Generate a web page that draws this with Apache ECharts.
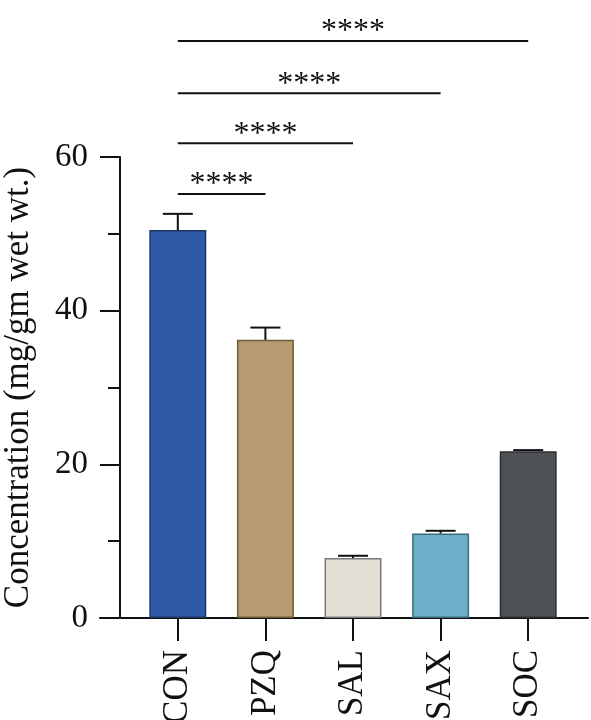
<!DOCTYPE html>
<html>
<head>
<meta charset="utf-8">
<script src="https://cdn.jsdelivr.net/npm/echarts@6/dist/echarts.min.js"></script>
<style>
  html, body { margin: 0; padding: 0; background: #fff; }
  #chart { width: 591px; height: 720px; }
</style>
</head>
<body>
<div id="chart"></div>
<script>
const categories = ["CON", "PZQ", "SAL", "SAX", "SOC"];
const means = [50.5, 36.2, 7.8, 11.0, 21.7];
const upperErr = [52.6, 37.8, 8.1, 11.35, 21.85];
const barColors = ["#2f5aa8", "#b59b6f", "#e3dfd4", "#6bafc9", "#4e5257"];
const borderColors = ["#1c3563", "#6e5c33", "#7a7a74", "#3c6a7a", "#2b2d30"];
const yTicks = { min: 0, max: 60, interval: 20 };

// significance brackets: [from index, to index, height in data units, label]
const sigFrom = [0, 0, 0, 0];
const sigTo = [1, 2, 3, 4];
const sigLevels = [55.2, 61.8, 68.3, 75.1];
const sigLabels = ["****", "****", "****", "****"];

const serif = "'Liberation Serif', 'DejaVu Serif', serif";

const chart = echarts.init(document.getElementById("chart"));

const option = {
  animation: false,
  grid: [
    { left: 134, right: 19, top: 157, bottom: 102, outerBoundsMode: "none", containLabel: false },
    { left: 100, right: 3, top: 157, bottom: 102, outerBoundsMode: "none", containLabel: false }
  ],
  xAxis: [
    {
      type: "category",
      gridIndex: 0,
      data: categories,
      axisLine: { show: false },
      axisTick: {
        show: true,
        alignWithLabel: true,
        length: 23,
        lineStyle: { color: "#111", width: 2 }
      },
      axisLabel: {
        rotate: 90,
        margin: 32,
        fontFamily: serif,
        fontSize: 35,
        color: "#111"
      }
    },
    {
      type: "value",
      gridIndex: 1,
      axisLine: { show: true, onZero: false, lineStyle: { color: "#111", width: 2 } },
      axisTick: { show: false },
      axisLabel: { show: false },
      splitLine: { show: false }
    }
  ],
  yAxis: [
    {
      type: "value",
      gridIndex: 0,
      min: yTicks.min,
      max: yTicks.max,
      interval: yTicks.interval,
      offset: 14,
      name: "Concentration (mg/gm wet wt.)",
      nameLocation: "middle",
      nameRotate: 90,
      nameGap: 84,
      nameTextStyle: { fontFamily: serif, fontSize: 35, color: "#111" },
      axisLine: { show: true, lineStyle: { color: "#111", width: 2 } },
      axisTick: { show: true, length: 20, lineStyle: { color: "#111", width: 2 } },
      minorTick: { show: true, splitNumber: 2, length: 12, lineStyle: { color: "#111", width: 2 } },
      axisLabel: { fontFamily: serif, fontSize: 33, color: "#111", margin: 32 },
      splitLine: { show: false }
    },
    { type: "value", gridIndex: 1, show: false }
  ],
  series: [
    {
      type: "bar",
      xAxisIndex: 0,
      yAxisIndex: 0,
      barWidth: "65%",
      data: means.map((v, i) => ({
        value: v,
        itemStyle: { color: barColors[i], borderColor: borderColors[i], borderWidth: 1.5 }
      }))
    },
    {
      type: "custom",
      xAxisIndex: 0,
      yAxisIndex: 0,
      clip: false,
      data: means.map((v, i) => [i, v, upperErr[i]]),
      renderItem: function (params, api) {
        const base = api.coord([api.value(0), api.value(1)]);
        const top = api.coord([api.value(0), api.value(2)]);
        const half = 15;
        const style = { stroke: "#111", lineWidth: 2 };
        return {
          type: "group",
          children: [
            { type: "line", shape: { x1: base[0], y1: base[1], x2: top[0], y2: top[1] }, style: style },
            { type: "line", shape: { x1: top[0] - half, y1: top[1], x2: top[0] + half, y2: top[1] }, style: style }
          ]
        };
      },
      z: 3
    },
    {
      type: "custom",
      xAxisIndex: 0,
      yAxisIndex: 0,
      clip: false,
      data: sigLevels.map((h, i) => [sigFrom[i], sigTo[i], h]),
      renderItem: function (params, api) {
        const a = api.coord([api.value(0), api.value(2)]);
        const b = api.coord([api.value(1), api.value(2)]);
        return {
          type: "group",
          children: [
            { type: "line", shape: { x1: a[0], y1: a[1], x2: b[0], y2: b[1] }, style: { stroke: "#111", lineWidth: 2 } },
            {
              type: "text",
              style: {
                x: (a[0] + b[0]) / 2,
                y: a[1] + 7,
                text: sigLabels[params.dataIndex],
                fontFamily: serif,
                fontSize: 32,
                fill: "#111",
                align: "center",
                verticalAlign: "bottom"
              }
            }
          ]
        };
      },
      z: 3
    }
  ]
};

chart.setOption(option);
</script>
</body>
</html>
